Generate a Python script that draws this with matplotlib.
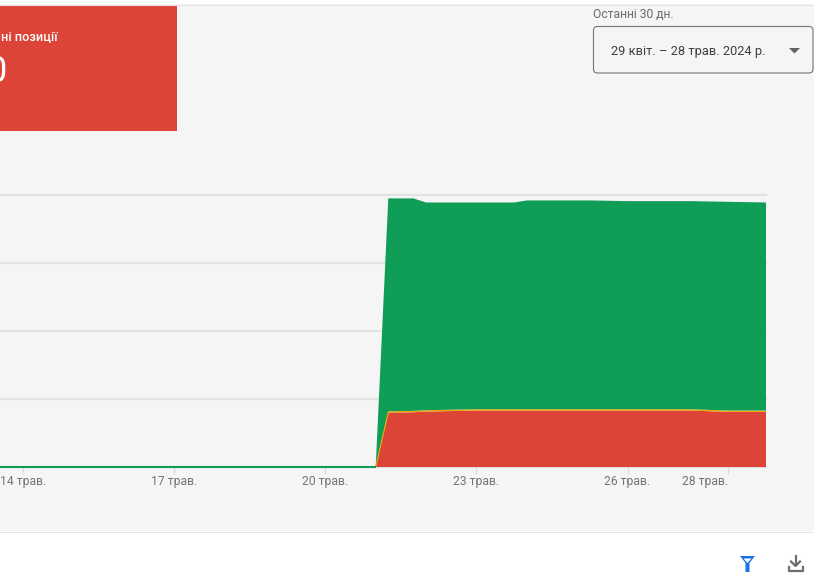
#!/usr/bin/env python
import matplotlib
matplotlib.use("Agg")
import matplotlib.pyplot as plt
from matplotlib.patches import FancyBboxPatch, Polygon, Rectangle

plt.rcParams["font.family"] = ["Roboto", "DejaVu Sans"]

# days of May (quarter-day samples, only the bends are kept)
days = [13.54, 21.0, 21.25, 21.75, 22.0, 23.0, 23.75, 24.0, 25.25, 26.0, 27.25, 28.0, 28.75]
# series in gridline units, stacked red / orange / green
poor = [0, 0, 0.80, 0.805, 0.815, 0.83, 0.83, 0.83, 0.83, 0.83, 0.83, 0.81, 0.81]
needs_work = [0, 0, 0.02, 0.02, 0.02, 0.02, 0.02, 0.02, 0.02, 0.02, 0.02, 0.02, 0.02]
good = [0, 0, 3.13, 3.125, 3.055, 3.04, 3.04, 3.07, 3.07, 3.06, 3.06, 3.07, 3.06]

tick_days = [14, 17, 20, 23, 26, 28]
tick_labels = ["14 трав.", "17 трав.", "20 трав.", "23 трав.", "26 трав.", "28 трав."]
label_shift_px = [0, 0, 0, 0, 0, -23]
grid_levels = [1, 2, 3, 4]

W, H = 814, 588
BG = "#f5f5f5"
RED = "#dd4438"
GREEN = "#109d58"
ORANGE = "#f4a300"

fig = plt.figure(figsize=(W / 100, H / 100), dpi=100, facecolor="white")

# page furniture, drawn in pixel coordinates
ui = fig.add_axes([0, 0, 1, 1])
ui.set_xlim(0, W)
ui.set_ylim(H, 0)
ui.axis("off")
ui.add_patch(Rectangle((0, 4), W, 527, fc=BG, ec="none"))
ui.plot([0, W], [4.5, 4.5], color="#e4e4e4", lw=0.8)
ui.plot([0, W], [531.5, 531.5], color="#e4e4e4", lw=0.8)
ui.add_patch(Rectangle((0, 5), 177, 126, fc=RED, ec="none"))
ui.text(58, 36.5, "ні позиції", color="white", fontsize=9.2, fontweight="medium",
        ha="right", va="center")
ui.text(7, 72, "0", color="white", fontsize=26, ha="right", va="center")

ui.text(593, 15, "Останні 30 дн.", color="#6b6b6b", fontsize=8.7, va="center")
ui.add_patch(FancyBboxPatch((597, 30), 212.5, 39.5, boxstyle="round,pad=3.5,rounding_size=4",
                            fc=BG, ec="#70757a", lw=0.8))
ui.text(611, 51, "29 квіт. – 28 трав. 2024 р.", color="#3c4043", fontsize=9.3, va="center")
ui.add_patch(Polygon([(789, 48), (800, 48), (794.5, 53.5)], fc="#5f6368", ec="none"))

# filter icon
ui.add_patch(Polygon([(740, 556), (755, 556), (749.5, 563), (749.5, 572), (745.5, 572), (745.5, 563)],
                     fc="#1a73e8", ec="none"))
ui.add_patch(Polygon([(743.5, 558.5), (751.5, 558.5), (747.5, 563)], fc="white", ec="none"))
# download icon
ui.plot([795.5, 795.5], [556, 565], color="#6b6f73", lw=1.6)
ui.plot([791, 795.5, 800], [561.5, 566, 561.5], color="#6b6f73", lw=1.6)
ui.plot([788.5, 788.5, 802.5, 802.5], [567, 570.5, 570.5, 567], color="#6b6f73", lw=1.6)

# chart, x axis runs from the left page edge to 766 px
ax = fig.add_axes([0, (H - 467) / H, 766 / W, 272 / H])
ax.patch.set_alpha(0)
ax.set_xlim(days[0], days[-1])
ax.set_ylim(0, 4)
for side in ["top", "right", "left"]:
    ax.spines[side].set_visible(False)
ax.spines["bottom"].set_color("#dcdcdc")
ax.spines["bottom"].set_zorder(0.5)
ax.set_yticks(grid_levels)
ax.yaxis.grid(True, color="#e2e2e2", lw=1.5, clip_on=False)
ax.set_axisbelow(True)
ax.tick_params(axis="y", length=0, labelleft=False)
ax.set_xticks(tick_days)
ax.set_xticklabels([])
ax.tick_params(axis="x", length=5, color="#dcdcdc", width=1)

ax.stackplot(days, poor, needs_work, good, colors=[RED, ORANGE, GREEN], lw=0)
ax.plot(days[:2], good[:2], color=GREEN, lw=1.5, clip_on=False, solid_capstyle="butt", zorder=4)
ax.plot(days[1:3], poor[1:3], color=ORANGE, lw=0.8)

for d, label, shift in zip(tick_days, tick_labels, label_shift_px):
    ax.annotate(label, (d, 0), xytext=(shift * 0.72, -10.5), textcoords="offset points",
                ha="center", va="center", color="#757575", fontsize=8.7)

fig.savefig("out.png", dpi=100, facecolor="white")
